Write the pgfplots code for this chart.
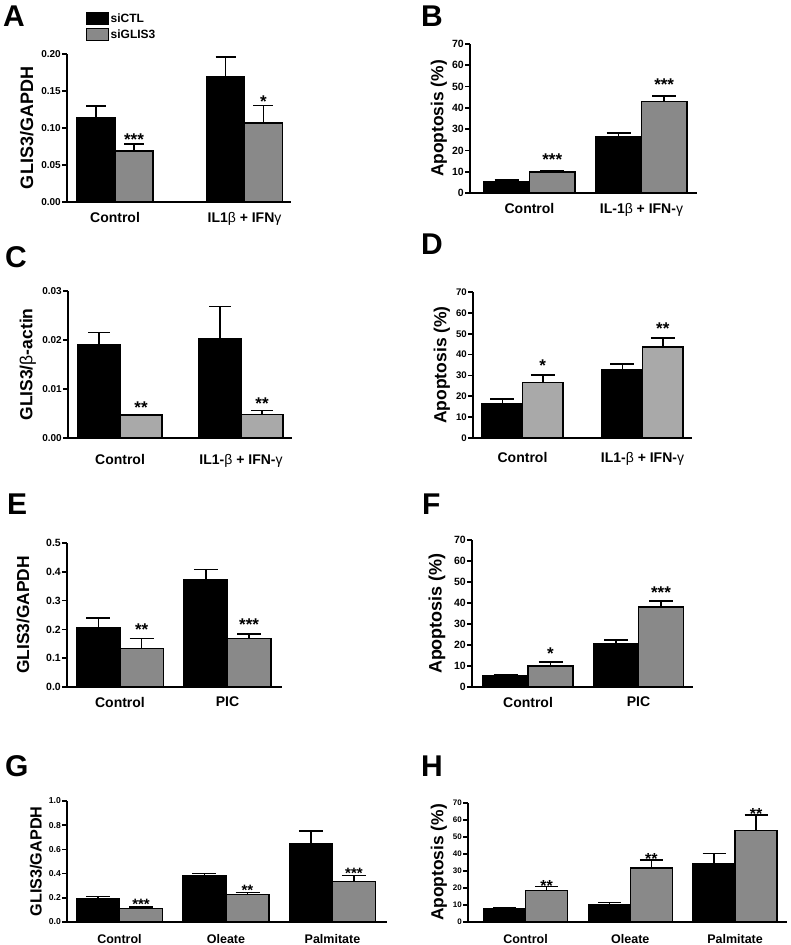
\documentclass[border=0pt]{standalone}
\usepackage{fontspec}
\setmainfont{Liberation Sans}
\usepackage{pgfplots}
\pgfplotsset{compat=1.18}
\definecolor{g1}{HTML}{898989}
\definecolor{g2}{HTML}{A9A9A9}
\newcommand{\fs}[1]{\fontsize{#1}{#1}\selectfont\bfseries}
\newcommand{\md}[1]{{\mdseries #1}}
\tikzset{sig/.style={anchor=base, inner sep=0pt, font=\fs{17}}}
\pgfplotsset{
 prism/.style={
   scale only axis, anchor=south west, clip=false,
   axis lines=left, axis line style={-, line width=1.8pt, black},
   ybar=0pt, ymin=0,
   major tick length=5pt, tick align=outside,
   ytick style={line width=1.6pt, black},
   xtick style={draw=none},
   scaled y ticks=false,
   /pgf/number format/assume math mode=true,
   yticklabel style={inner sep=1pt},
   xticklabel style={anchor=north, inner sep=0pt, yshift=-5pt, font=\fs{14}},
   ylabel style={anchor=center},
   every axis plot/.append style={draw=black, line width=1.5pt,
     error bars/y dir=plus, error bars/y explicit,
     error bars/error bar style={line width=1.5pt, black}},
 },
 cap/.style={every axis plot/.append style={error bars/error mark options={rotate=90, mark size=#1, line width=1.5pt, black}}},
}
\begin{document}
\begin{tikzpicture}[x=1pt,y=1pt]
\useasboundingbox (0,0) rectangle (791,945);
% ---------------- A
\begin{axis}[prism, cap=10pt, at={(67pt,743pt)}, width=224pt, height=148pt,
  xmin=-0.371, xmax=1.359, ymax=0.2, bar width=0.293,
  ytick={0,0.05,0.1,0.15,0.2},
  yticklabel style={/pgf/number format/fixed, /pgf/number format/fixed zerofill, /pgf/number format/precision=2, font=\fs{10}},
  xtick={0,1}, xticklabels={Control, IL1\md{β} + IFN\md{γ}},
  ylabel={GLIS3/GAPDH}, ylabel style={at={(axis description cs:-0.179,0.5)}, font=\fs{18}},
  legend style={at={(axis description cs:0.0848,1.284)}, anchor=north west, draw=none, fill=none,
     font=\fs{12}, row sep=3pt, inner sep=0pt, nodes={inner sep=1.5pt}},
  legend cell align=left]
\addplot[fill=black, legend image code/.code={\draw[fill=black, line width=1pt] (0pt,-6pt) rectangle (22pt,6pt);}]
  coordinates {(0,0.1145) +- (0,0.0152) (1,0.169) +- (0,0.027)};
\addplot[fill=g1, legend image code/.code={\draw[fill=g1, line width=1pt] (0pt,-6pt) rectangle (22pt,6pt);}]
  coordinates {(0,0.0689) +- (0,0.0095) (1,0.107) +- (0,0.0237)};
\legend{siCTL, siGLIS3}
\node[sig, yshift=-1.8pt] at (axis cs:0.1467,0.0784) {***};
\node[sig, yshift=-1.8pt] at (axis cs:1.1467,0.1307) {*};
\end{axis}
% ---------------- B
\begin{axis}[prism, cap=12pt, at={(470pt,752pt)}, width=227pt, height=149pt,
  xmin=-0.531, xmax=1.496, ymax=70, bar width=0.406,
  ytick={0,10,20,30,40,50,60,70}, yticklabel style={font=\fs{10.5}},
  xtick={0,1}, xticklabels={Control, IL-1\md{β} + IFN-\md{γ}},
  ylabel={Apoptosis (\%)}, ylabel style={at={(axis description cs:-0.137,0.5)}, font=\fs{17.4}}]
\addplot[fill=black] coordinates {(0,5.3) +- (0,0.7) (1,26.2) +- (0,2.1)};
\addplot[fill=g1] coordinates {(0,9.9) +- (0,0.7) (1,42.9) +- (0,2.7)};
\node[sig, yshift=5.2pt] at (axis cs:0.203,10.6) {***};
\node[sig, yshift=5.2pt] at (axis cs:1.203,45.6) {***};
\end{axis}
% ---------------- C
\begin{axis}[prism, cap=11pt, at={(68pt,507pt)}, width=224pt, height=147pt,
  xmin=-0.430, xmax=1.421, ymax=0.03, bar width=0.347,
  ytick={0,0.01,0.02,0.03},
  yticklabel style={/pgf/number format/fixed, /pgf/number format/fixed zerofill, /pgf/number format/precision=2, font=\fs{10}},
  xtick={0,1}, xticklabels={Control, IL1-\md{β} + IFN-\md{γ}},
  xticklabel style={yshift=-6pt},
  ylabel={GLIS3/\md{β}-actin}, ylabel style={at={(axis description cs:-0.179,0.5)}, font=\fs{17.5}}]
\addplot[fill=black] coordinates {(0,0.0191) +- (0,0.0024) (1,0.0203) +- (0,0.0065)};
\addplot[fill=g2] coordinates {(0,0.0047) +- (0,0.0001) (1,0.0048) +- (0,0.0008)};
\node[sig, yshift=1.2pt] at (axis cs:0.1735,0.0048) {**};
\node[sig, yshift=1.2pt] at (axis cs:1.1735,0.0056) {**};
\end{axis}
% ---------------- D
\begin{axis}[prism, cap=12pt, at={(473pt,507pt)}, width=219pt, height=146pt,
  xmin=-0.4125, xmax=1.4125, ymax=70, bar width=0.3375,
  ytick={0,10,20,30,40,50,60,70}, yticklabel style={font=\fs{9.6}},
  xtick={0,1}, xticklabels={Control, IL1-\md{β} + IFN-\md{γ}},
  xticklabel style={yshift=-4pt},
  ylabel={Apoptosis (\%)}, ylabel style={at={(axis description cs:-0.142,0.5)}, font=\fs{17.5}}]
\addplot[fill=black] coordinates {(0,16.6) +- (0,2.1) (1,32.6) +- (0,2.9)};
\addplot[fill=g2] coordinates {(0,26.6) +- (0,3.6) (1,43.7) +- (0,4.2)};
\node[sig, yshift=3.7pt] at (axis cs:0.169,30.2) {*};
\node[sig, yshift=3.7pt] at (axis cs:1.169,47.9) {**};
\end{axis}
% ---------------- E
\begin{axis}[prism, cap=12pt, at={(67pt,258pt)}, width=215pt, height=144pt,
  xmin=-0.493, xmax=1.507, ymax=0.5, bar width=0.403,
  ytick={0,0.1,0.2,0.3,0.4,0.5},
  yticklabel style={/pgf/number format/fixed, /pgf/number format/fixed zerofill, /pgf/number format/precision=1, font=\fs{10.5}},
  xtick={0,1}, xticklabels={Control, PIC},
  ylabel={GLIS3/GAPDH}, ylabel style={at={(axis description cs:-0.205,0.5)}, font=\fs{17.4}}]
\addplot[fill=black] coordinates {(0,0.204) +- (0,0.035) (1,0.3715) +- (0,0.037)};
\addplot[fill=g1] coordinates {(0,0.134) +- (0,0.035) (1,0.169) +- (0,0.015)};
\node[sig, yshift=3.2pt] at (axis cs:0.2015,0.169) {**};
\node[sig, yshift=3.2pt] at (axis cs:1.2015,0.184) {***};
\end{axis}
% ---------------- F
\begin{axis}[prism, cap=12pt, at={(472pt,258pt)}, width=221pt, height=147pt,
  xmin=-0.507, xmax=1.493, ymax=70, bar width=0.407,
  ytick={0,10,20,30,40,50,60,70}, yticklabel style={font=\fs{10.5}},
  xtick={0,1}, xticklabels={Control, PIC},
  ylabel={Apoptosis (\%)}, ylabel style={at={(axis description cs:-0.158,0.5)}, font=\fs{18}}]
\addplot[fill=black] coordinates {(0,5.4) +- (0,0.5) (1,20.8) +- (0,1.6)};
\addplot[fill=g1] coordinates {(0,10.0) +- (0,1.9) (1,38.2) +- (0,2.8)};
\node[sig, yshift=2.7pt] at (axis cs:0.2035,11.9) {*};
\node[sig, yshift=2.7pt] at (axis cs:1.2035,41.0) {***};
\end{axis}
% ---------------- G
\begin{axis}[prism, cap=12pt, at={(67pt,23pt)}, width=320pt, height=121pt,
  xmin=-0.493, xmax=2.512, ymax=1.0, bar width=0.404,
  ytick={0,0.2,0.4,0.6,0.8,1.0},
  yticklabel style={/pgf/number format/fixed, /pgf/number format/fixed zerofill, /pgf/number format/precision=1, font=\fs{8.6}},
  xtick={0,1,2}, xticklabels={Control, Oleate, Palmitate},
  xticklabel style={yshift=-2.5pt, font=\fs{12.5}},
  ylabel={GLIS3/GAPDH}, ylabel style={at={(axis description cs:-0.097,0.5)}, font=\fs{16.2}}]
\addplot[fill=black] coordinates {(0,0.196) +- (0,0.013) (1,0.380) +- (0,0.019) (2,0.650) +- (0,0.102)};
\addplot[fill=g1] coordinates {(0,0.113) +- (0,0.013) (1,0.229) +- (0,0.016) (2,0.333) +- (0,0.050)};
\node[sig, font=\fs{15}, yshift=-3pt] at (axis cs:0.202,0.126) {***};
\node[sig, font=\fs{15}, yshift=-3pt] at (axis cs:1.202,0.245) {**};
\node[sig, font=\fs{15}, yshift=-3pt] at (axis cs:2.202,0.383) {***};
\end{axis}
% ---------------- H
\begin{axis}[prism, cap=11.5pt, at={(468pt,23pt)}, width=319pt, height=119pt,
  xmin=-0.549, xmax=2.496, ymax=70, bar width=0.401,
  ytick={0,10,20,30,40,50,60,70}, yticklabel style={font=\fs{8}},
  xtick={0,1,2}, xticklabels={Control, Oleate, Palmitate},
  xticklabel style={yshift=-2.5pt, font=\fs{12.5}},
  ylabel={Apoptosis (\%)}, ylabel style={at={(axis description cs:-0.091,0.5)}, font=\fs{17.4}}]
\addplot[fill=black] coordinates {(0,7.6) +- (0,1.0) (1,10.0) +- (0,1.6) (2,34.5) +- (0,5.9)};
\addplot[fill=g1] coordinates {(0,18.6) +- (0,2.2) (1,31.9) +- (0,4.6) (2,53.7) +- (0,9.2)};
\node[sig, font=\fs{16}, yshift=-4.4pt] at (axis cs:0.2005,20.8) {**};
\node[sig, font=\fs{16}, yshift=-4.4pt] at (axis cs:1.2005,36.5) {**};
\node[sig, font=\fs{16}, yshift=-4.4pt] at (axis cs:2.2005,62.9) {**};
\end{axis}
% ---------------- panel letters
\begin{scope}[every node/.style={anchor=base west, inner sep=0pt, font=\fs{30}}]
\node at (3,918) {A};
\node at (421,918) {B};
\node at (5,677) {C};
\node at (421,690) {D};
\node at (7,430) {E};
\node at (422,430) {F};
\node at (5,168) {G};
\node at (421,168) {H};
\end{scope}
\end{tikzpicture}
\end{document}
